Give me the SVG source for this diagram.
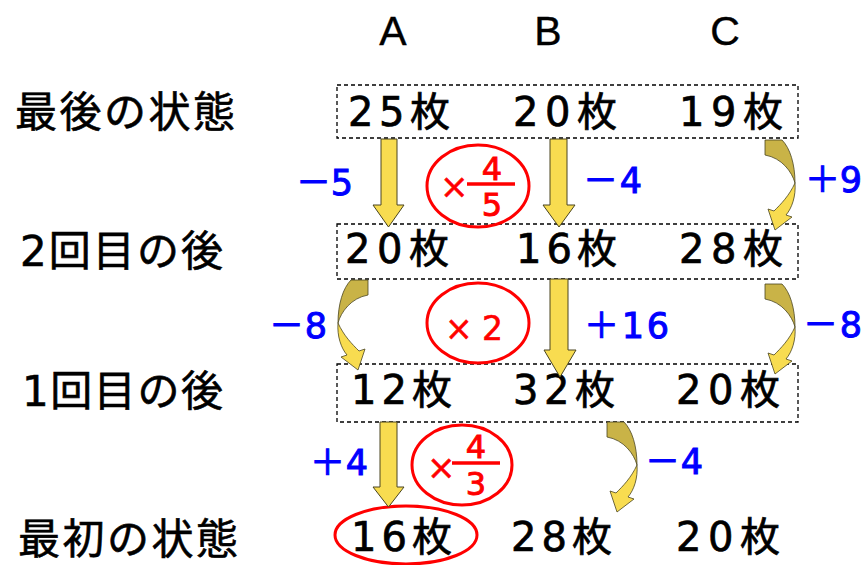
<svg xmlns="http://www.w3.org/2000/svg" width="865" height="565" viewBox="0 0 865 565">
<style>
.hdr{font-family:"Liberation Sans",Arial,sans-serif;font-size:41px;fill:#000;text-anchor:middle;stroke:#000;stroke-width:0.4}
.row{font-family:"DejaVu Sans","Noto Sans CJK JP",sans-serif;font-size:42px;fill:#000;stroke:#000;stroke-width:0.6}
.num{font-family:"DejaVu Sans","Noto Sans CJK JP",sans-serif;font-size:40px;fill:#000;stroke:#000;stroke-width:0.7}
.blue{font-family:"DejaVu Sans","Noto Sans CJK JP",sans-serif;font-size:35px;fill:#0000ff;stroke:#0000ff;stroke-width:1}
.red{font-family:"DejaVu Sans","Noto Sans CJK JP",sans-serif;fill:#ff0000;stroke:#ff0000;stroke-width:0.6}
.frac{font-family:"DejaVu Sans",sans-serif;font-size:32px;fill:#ff0000;text-anchor:middle;stroke:#ff0000;stroke-width:0.9}
.box{fill:none;stroke:#000;stroke-width:1.3;stroke-dasharray:4 3}
.ring{fill:none;stroke:#ff0000;stroke-width:3}
.bar{stroke:#ff0000;stroke-width:3.5}
.arr{fill:#f8dc50;stroke:#4a4520;stroke-width:1}
.dark{fill:#c9b347;stroke:#4a4520;stroke-width:0.8}
.light{fill:#f8dc50;stroke:#4a4520;stroke-width:0.8}
</style>
<defs>
<g id="curve">
<path class="dark" d="M0,0 L17,0 C25,8 30,24 30,43 C27,32 17,18 0,15 Z"/>
<path class="light" d="M30,43 C31,56 27,68 21,75 L27,77 L10,90 L3,69 L9,71 C16,64 24,56 30,43 Z"/>
</g>
</defs>

<g id="headers">
<text class="hdr" x="393" y="45">A</text>
<text class="hdr" x="548" y="45">B</text>
<text class="hdr" x="725" y="45">C</text>
</g>

<g id="row-labels">
<text class="row" x="15" y="127" textLength="220" lengthAdjust="spacing">最後の状態</text>
<text class="row" x="20" y="266" textLength="203" lengthAdjust="spacing">2回目の後</text>
<text class="row" x="22" y="406" textLength="201" lengthAdjust="spacing">1回目の後</text>
<text class="row" x="18" y="554" textLength="220" lengthAdjust="spacing">最初の状態</text>
</g>

<g id="state-final">
<rect class="box" x="337" y="85" width="461" height="53"/>
<text class="num" x="348" y="126" textLength="102" lengthAdjust="spacing">25枚</text>
<text class="num" x="513" y="126" textLength="104" lengthAdjust="spacing">20枚</text>
<text class="num" x="679" y="126" textLength="104" lengthAdjust="spacing">19枚</text>
</g>

<g id="state-after2">
<rect class="box" x="337" y="224" width="461" height="55"/>
<text class="num" x="345" y="263" textLength="104" lengthAdjust="spacing">20枚</text>
<text class="num" x="516" y="263" textLength="101" lengthAdjust="spacing">16枚</text>
<text class="num" x="679" y="263" textLength="104" lengthAdjust="spacing">28枚</text>
</g>

<g id="state-after1">
<rect class="box" x="337" y="364" width="461" height="58"/>
<text class="num" x="351" y="404" textLength="101" lengthAdjust="spacing">12枚</text>
<text class="num" x="513" y="404" textLength="102" lengthAdjust="spacing">32枚</text>
<text class="num" x="676" y="404" textLength="104" lengthAdjust="spacing">20枚</text>
</g>

<g id="state-initial">
<ellipse class="ring" cx="406" cy="535" rx="71" ry="29"/>
<text class="num" x="351" y="551" textLength="101" lengthAdjust="spacing">16枚</text>
<text class="num" x="511" y="551" textLength="101" lengthAdjust="spacing">28枚</text>
<text class="num" x="676" y="551" textLength="104" lengthAdjust="spacing">20枚</text>
</g>

<g id="connectors">
<polygon class="arr" points="381,139 397,139 397,205 404,205 388.5,227 373,205 381,205"/>
<polygon class="arr" points="550,139 567,139 567,205 575,205 559,227 543,205 550,205"/>
<use href="#curve" transform="translate(765,140)"/>
<use href="#curve" transform="translate(368,280) scale(-1,1)"/>
<polygon class="arr" points="550,279 568,279 568,350 576,350 560,377 544,350 550,350"/>
<use href="#curve" transform="translate(765,284)"/>
<polygon class="arr" points="380,422 397,422 397,487 404,487 388.5,507 373,487 380,487"/>
<use href="#curve" transform="translate(607,422)"/>
</g>

<g id="factors">
<ellipse class="ring" cx="478" cy="186" rx="51" ry="41"/>
<text class="red" x="440" y="198" font-size="34">×</text>
<text class="frac" x="492" y="180">4</text>
<line class="bar" x1="467" y1="184" x2="515" y2="184"/>
<text class="frac" x="492" y="216">5</text>

<ellipse class="ring" cx="478" cy="323" rx="51" ry="40"/>
<text class="red" x="445" y="340" font-size="33" textLength="58" lengthAdjust="spacing">×2</text>

<ellipse class="ring" cx="462" cy="465" rx="50" ry="40"/>
<text class="red" x="427" y="479" font-size="34">×</text>
<text class="frac" x="476" y="458">4</text>
<line class="bar" x1="452" y1="463" x2="500" y2="463"/>
<text class="frac" x="476" y="495">3</text>
</g>

<g id="deltas">
<text class="blue" x="296" y="195" textLength="57" lengthAdjust="spacing">－5</text>
<text class="blue" x="583" y="193" textLength="59" lengthAdjust="spacing">－4</text>
<text class="blue" x="805" y="192" textLength="57" lengthAdjust="spacing">＋9</text>
<text class="blue" x="269" y="338" textLength="58" lengthAdjust="spacing">－8</text>
<text class="blue" x="584" y="338" textLength="85" lengthAdjust="spacing">＋16</text>
<text class="blue" x="803" y="337" textLength="59" lengthAdjust="spacing">－8</text>
<text class="blue" x="310" y="475" textLength="58" lengthAdjust="spacing">＋4</text>
<text class="blue" x="645" y="474" textLength="58" lengthAdjust="spacing">－4</text>
</g>
</svg>
